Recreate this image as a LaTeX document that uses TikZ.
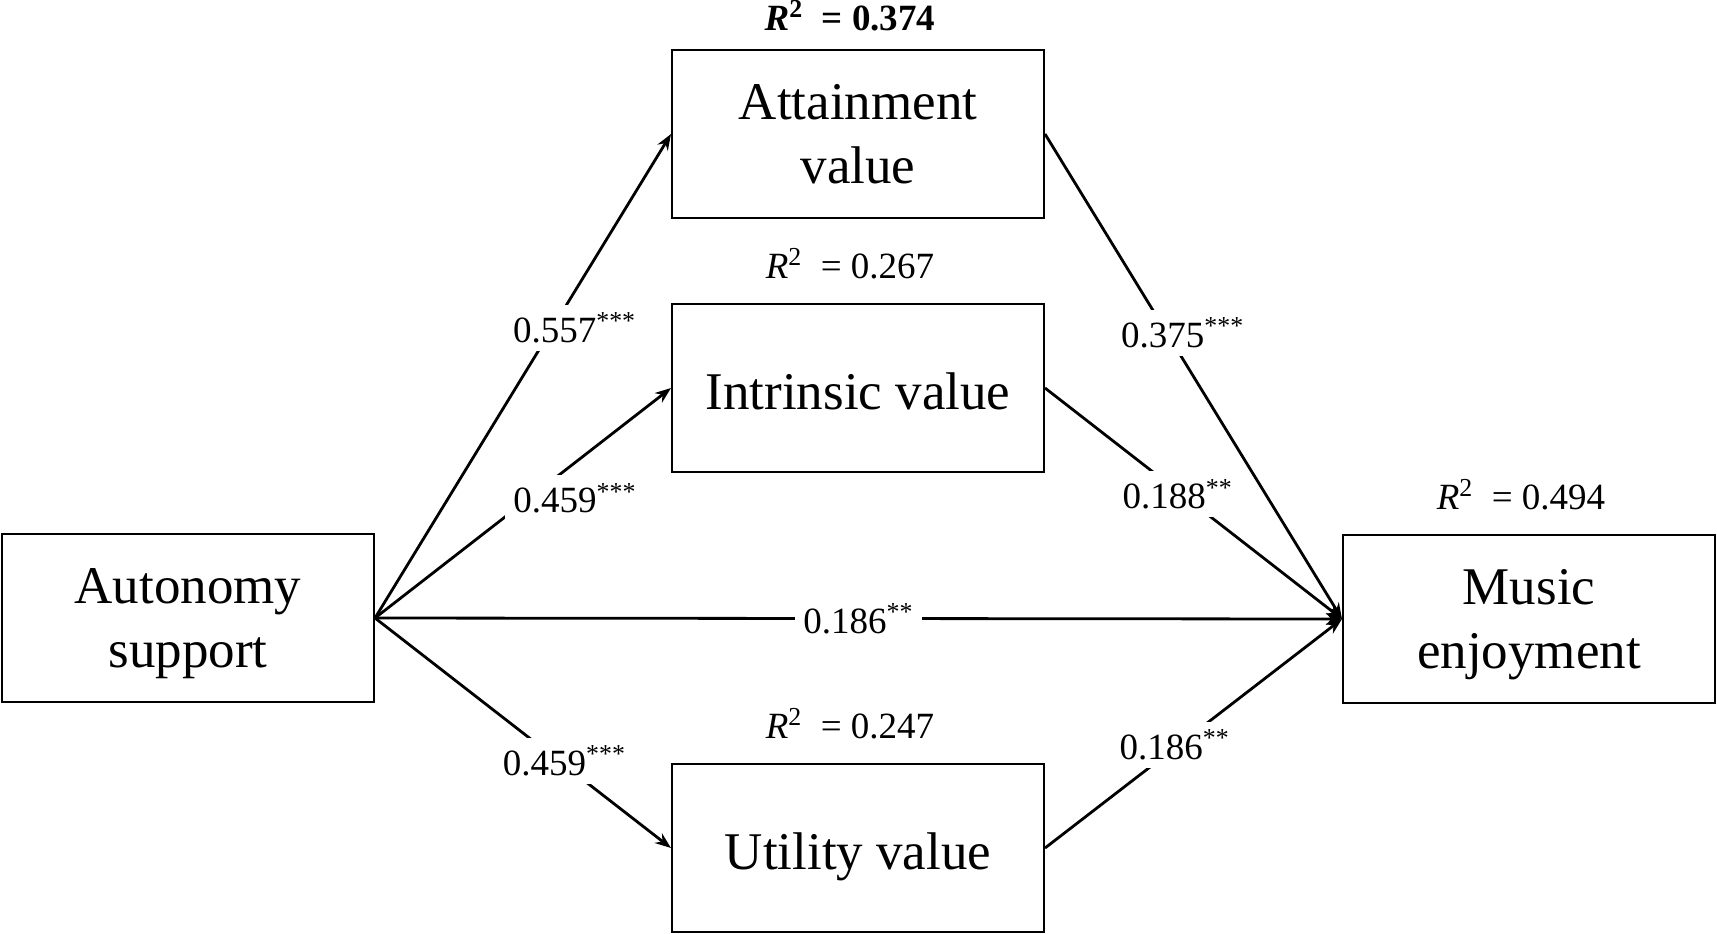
\documentclass[tikz,border=0pt]{standalone}
\usepackage{fontspec}
\setmainfont{Liberation Serif}
\usetikzlibrary{positioning,arrows.meta}

\begin{document}
\begin{tikzpicture}[x=0.5pt,y=-0.5pt,
    box_node/.style={draw,line width=1pt,minimum width=186pt,minimum height=84pt,inner sep=0pt,text depth=0pt,align=center,font=\fontsize{26.5}{32}\selectfont,execute at begin node={\rule{0pt}{21.5pt}}},
    coef_node/.style={fill=white,inner sep=4pt,font=\fontsize{18.5}{20}\selectfont},
    r2_node/.style={inner sep=0pt,xshift=-4pt,font=\fontsize{18.5}{20}\selectfont},
    path_arrow/.style={-{Stealth[length=8pt,width=6pt]},line width=1.4pt}]

    \useasboundingbox (0,0) rectangle (1717,933);

    \node[box_node] (1) at (188,618) {Autonomy\\support};
    \node[box_node] (2) at (858,134) {Attainment\\value};
    \node[box_node] (3) at (858,388) {Intrinsic value};
    \node[box_node] (4) at (858,848) {Utility value};
    \node[box_node] (5) at (1529,619) {Music\\enjoyment};

    \node[r2_node,above=9pt of 2] {\textbf{\textit{R}\textsuperscript{2}\ \ = 0.374}};
    \node[r2_node,above=12pt of 3] {\textit{R}\textsuperscript{2}\ \ = 0.267};
    \node[r2_node,above=12pt of 4] {\textit{R}\textsuperscript{2}\ \ = 0.247};
    \node[r2_node,above=12pt of 5] {\textit{R}\textsuperscript{2}\ \ = 0.494};

    \draw[path_arrow] (1.east) -- node[coef_node,pos=0.6,xshift=11pt] {0.557\textsuperscript{***}} (2.west);
    \draw[path_arrow] (1.east) -- node[coef_node,pos=0.52,xshift=23pt] {0.459\textsuperscript{***}} (3.west);
    \draw[path_arrow] (1.east) -- node[coef_node,pos=0.62,xshift=3pt] {0.459\textsuperscript{***}} (4.west);
    \draw[path_arrow] (1.east) -- node[coef_node,pos=0.5] {0.186\textsuperscript{**}} (5.west);
    \draw[path_arrow] (2.east) -- node[coef_node,pos=0.41,xshift=8pt] {0.375\textsuperscript{***}} (5.west);
    \draw[path_arrow] (3.east) -- node[coef_node,pos=0.46,xshift=-2pt] {0.188\textsuperscript{**}} (5.west);
    \draw[path_arrow] (4.east) -- node[coef_node,pos=0.45,xshift=-2pt] {0.186\textsuperscript{**}} (5.west);
\end{tikzpicture}
\end{document}
